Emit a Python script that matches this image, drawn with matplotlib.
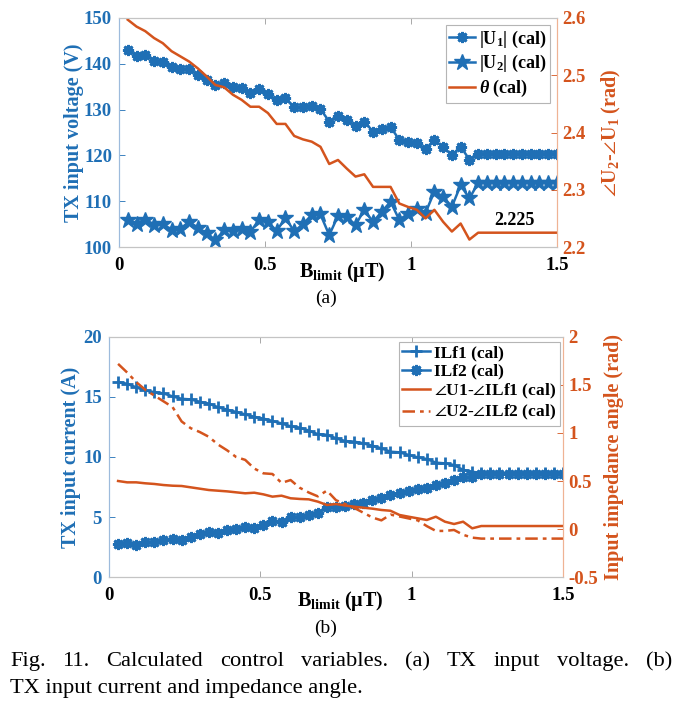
import matplotlib
matplotlib.use('Agg')
import matplotlib.pyplot as plt

plt.rcParams['font.family'] = ['Liberation Serif', 'DejaVu Serif']
plt.rcParams['mathtext.fontset'] = 'custom'
plt.rcParams['mathtext.rm'] = 'Liberation Serif:bold'
plt.rcParams['mathtext.bf'] = 'Liberation Serif:bold'
plt.rcParams['mathtext.it'] = 'Liberation Serif:italic:bold'
plt.rcParams['mathtext.fallback'] = 'stix'

# ---------------- data ----------------
b_limit = [0.03, 0.06, 0.09, 0.12, 0.15, 0.18, 0.21, 0.24, 0.27, 0.30,
           0.33, 0.36, 0.39, 0.42, 0.45, 0.48, 0.51, 0.54, 0.57, 0.60,
           0.63, 0.66, 0.69, 0.72, 0.75, 0.78, 0.81, 0.84, 0.87, 0.90,
           0.93, 0.96, 0.99, 1.02, 1.05, 1.08, 1.11, 1.14, 1.17, 1.20,
           1.23, 1.26, 1.29, 1.32, 1.35, 1.38, 1.41, 1.44, 1.47, 1.50]

u1_mag = [143.0, 141.8, 141.9, 140.7, 140.4, 139.2, 138.9, 138.8, 137.6, 136.5,
          135.4, 135.9, 134.9, 134.7, 133.6, 134.5, 133.4, 132.0, 132.5, 130.5,
          130.5, 130.7, 130.1, 127.4, 128.7, 127.8, 126.4, 127.4, 125.2, 125.7,
          126.2, 123.4, 123.0, 122.6, 121.4, 123.4, 121.8, 120.1, 121.9, 119.1,
          120.4, 120.4, 120.4, 120.4, 120.4, 120.4, 120.4, 120.4, 120.4, 120.4]

u2_mag = [106.0, 105.0, 106.0, 104.9, 105.0, 103.8, 104.0, 105.5, 104.2, 103.0,
          101.5, 103.7, 103.6, 104.0, 103.3, 106.0, 105.5, 103.5, 106.4, 103.4,
          105.0, 107.0, 107.1, 102.6, 106.8, 106.6, 104.8, 108.1, 105.5, 107.7,
          109.9, 105.9, 107.3, 108.4, 107.5, 112.1, 111.0, 108.8, 113.5, 110.6,
          114.0, 114.0, 114.0, 114.0, 114.0, 114.0, 114.0, 114.0, 114.0, 114.0]

theta = [2.597, 2.585, 2.577, 2.565, 2.556, 2.542, 2.533, 2.524, 2.512, 2.498,
         2.483, 2.479, 2.466, 2.457, 2.445, 2.445, 2.434, 2.415, 2.415, 2.394,
         2.388, 2.384, 2.375, 2.345, 2.352, 2.337, 2.323, 2.327, 2.305, 2.305,
         2.305, 2.276, 2.270, 2.265, 2.250, 2.265, 2.244, 2.227, 2.241, 2.213,
         2.225, 2.225, 2.225, 2.225, 2.225, 2.225, 2.225, 2.225, 2.225, 2.225]

ilf1 = [16.25, 16.10, 15.80, 15.55, 15.40, 15.30, 15.05, 14.85, 14.80, 14.60,
        14.45, 14.15, 13.95, 13.75, 13.55, 13.35, 13.20, 13.00, 12.80, 12.55,
        12.45, 12.20, 11.90, 11.85, 11.56, 11.33, 11.28, 11.14, 10.94, 10.72,
        10.44, 10.39, 10.17, 9.97, 9.83, 9.53, 9.47, 9.33, 8.92, 8.78,
        8.65, 8.65, 8.65, 8.65, 8.65, 8.65, 8.65, 8.65, 8.65, 8.65]

ilf2 = [2.72, 2.86, 2.67, 2.89, 2.89, 3.08, 3.14, 3.08, 3.31, 3.58,
        3.78, 3.69, 3.92, 3.97, 4.19, 4.11, 4.33, 4.69, 4.61, 4.97,
        5.03, 5.17, 5.31, 5.81, 5.80, 5.90, 6.10, 6.20, 6.45, 6.60,
        6.85, 7.00, 7.20, 7.30, 7.45, 7.70, 7.85, 8.05, 8.30, 8.35,
        8.60, 8.60, 8.60, 8.60, 8.60, 8.60, 8.60, 8.60, 8.60, 8.60]

ang1 = [0.500, 0.486, 0.486, 0.476, 0.469, 0.458, 0.451, 0.448, 0.434, 0.420,
        0.406, 0.399, 0.392, 0.382, 0.372, 0.378, 0.361, 0.337, 0.347, 0.320,
        0.313, 0.309, 0.285, 0.250, 0.260, 0.245, 0.232, 0.222, 0.212, 0.198,
        0.190, 0.146, 0.128, 0.111, 0.094, 0.128, 0.076, 0.052, 0.076, 0.007,
        0.031, 0.031, 0.031, 0.031, 0.031, 0.031, 0.031, 0.031, 0.031, 0.031]

ang2 = [1.72, 1.63, 1.53, 1.45, 1.39, 1.33, 1.27, 1.12, 1.05, 1.01,
        0.96, 0.88, 0.82, 0.75, 0.72, 0.63, 0.58, 0.573, 0.48, 0.51,
        0.43, 0.38, 0.34, 0.40, 0.30, 0.26, 0.22, 0.17, 0.12, 0.09,
        0.15, 0.13, 0.11, 0.09, 0.03, -0.02, -0.02, -0.01, -0.06, -0.09,
        -0.10, -0.10, -0.10, -0.10, -0.10, -0.10, -0.10, -0.10, -0.10, -0.10]

x_ticks = [0, 0.5, 1, 1.5]
x_ticklabels = ['0', '0.5', '1', '1.5']
a_left_ticks = [100, 110, 120, 130, 140, 150]
a_right_ticks = [2.2, 2.3, 2.4, 2.5, 2.6]
a_right_labels = ['2.2', '2.3', '2.4', '2.5', '2.6']
b_left_ticks = [0, 5, 10, 15, 20]
b_right_ticks = [-0.5, 0, 0.5, 1, 1.5, 2]
b_right_labels = ['-0.5', '0', '0.5', '1', '1.5', '2']

BLUE = '#1f6fb5'
ORANGE = '#d4541d'
TICKFS = 13.5
LABFS = 14.5

W, H = 684, 709
fig = plt.figure(figsize=(W / 100, H / 100), dpi=100)


def px_axes(l, r, t, b):
    return fig.add_axes([l / W, 1 - b / H, (r - l) / W, (b - t) / H])


def style_axes(ax, ax2):
    ax.set_xlim(0, 1.5)
    ax.set_xticks(x_ticks)
    ax.set_xticklabels(x_ticklabels, fontsize=TICKFS, fontweight='bold')
    ax.tick_params(axis='x', direction='in', length=4, width=0.6, top=True,
                   color='#9a9a9a', pad=7)
    ax.tick_params(axis='y', direction='in', length=4, width=0.6,
                   colors=BLUE, labelsize=TICKFS, pad=5)
    ax2.tick_params(axis='y', direction='in', length=4, width=0.6,
                    colors=ORANGE, labelsize=TICKFS, pad=4)
    for lab in ax.get_yticklabels() + ax2.get_yticklabels():
        lab.set_fontweight('bold')
    for a in (ax, ax2):
        a.spines['top'].set_color('#c4c4c4')
        a.spines['bottom'].set_color('#c4c4c4')
        a.spines['left'].set_color('#9dbbdc')
        a.spines['right'].set_color('#efb394')
        for s in a.spines.values():
            s.set_linewidth(0.8)


LEGKW = dict(fancybox=False, edgecolor='#b5b5b5', framealpha=1,
             handletextpad=0.25, borderpad=0.2, borderaxespad=0)

# ---------------- panel (a) ----------------
ax = px_axes(119, 557, 18, 247)
ax2 = ax.twinx()
ast = (8, 2, 0)
l1, = ax.plot(b_limit, u1_mag, color=BLUE, lw=1.8, marker=ast, ms=8, mew=2.0,
              label=r'$\mathbf{|U_1|}$ (cal)')
l2, = ax.plot(b_limit, u2_mag, color=BLUE, lw=1.8, marker='*', ms=12,
              label=r'$\mathbf{|U_2|}$ (cal)')
l3, = ax2.plot(b_limit, theta, color=ORANGE, lw=1.8, label=r'$\theta$ (cal)')
ax.set_ylim(100, 150)
ax.set_yticks(a_left_ticks)
ax2.set_ylim(2.2, 2.6)
ax2.set_yticks(a_right_ticks)
ax2.set_yticklabels(a_right_labels)
style_axes(ax, ax2)
ax.set_ylabel('TX input voltage (V)', fontsize=LABFS, fontweight='bold',
              color=BLUE, labelpad=0)
ax2.set_ylabel(r'$\angle\mathbf{U_2}$-$\angle\mathbf{U_1}$ (rad)',
               fontsize=LABFS, fontweight='bold', color=ORANGE,
               rotation=90, labelpad=10)
ax.text(0.51, -0.055, r'$\mathbf{B_{limit}}$ (μT)', transform=ax.transAxes,
        ha='center', va='top', fontsize=LABFS, fontweight='bold')
ax2.text(1.355, 2.232, '2.225', ha='center', va='bottom', fontsize=13,
         fontweight='bold', color='black')
leg = ax2.legend(handles=[l1, l2, l3], loc='upper right',
                 bbox_to_anchor=(0.985, 0.97),
                 prop={'weight': 'bold', 'size': 13},
                 handlelength=1.4, labelspacing=0.2, **LEGKW)
leg.get_frame().set_linewidth(0.8)
fig.text(326 / W, 1 - 298 / H, '(a)', ha='center', va='center', fontsize=14)

# ---------------- panel (b) ----------------
bx = px_axes(109, 563, 337, 577)
bx2 = bx.twinx()
m1, = bx.plot(b_limit, ilf1, color=BLUE, lw=1.8, marker='+', ms=9, mew=2.0,
              label='ILf1 (cal)')
m2, = bx.plot(b_limit, ilf2, color=BLUE, lw=1.8, marker=ast, ms=8, mew=2.0,
              label='ILf2 (cal)')
m3, = bx2.plot(b_limit, ang1, color=ORANGE, lw=1.8,
               label=r'$\angle$U1-$\angle$ILf1 (cal)')
m4, = bx2.plot(b_limit, ang2, color=ORANGE, lw=1.8,
               linestyle=(0, (5, 2, 1.5, 2)),
               label=r'$\angle$U2-$\angle$ILf2 (cal)')
bx.set_ylim(0, 20)
bx.set_yticks(b_left_ticks)
bx2.set_ylim(-0.5, 2)
bx2.set_yticks(b_right_ticks)
bx2.set_yticklabels(b_right_labels)
style_axes(bx, bx2)
bx.set_ylabel('TX input current (A)', fontsize=LABFS, fontweight='bold',
              color=BLUE, labelpad=1.5)
bx2.set_ylabel('Input impedance angle (rad)', fontsize=LABFS,
               fontweight='bold', color=ORANGE, rotation=90, labelpad=4)
bx.text(0.51, -0.05, r'$\mathbf{B_{limit}}$ (μT)', transform=bx.transAxes,
        ha='center', va='top', fontsize=LABFS, fontweight='bold')
leg2 = bx2.legend(handles=[m1, m2, m3, m4], loc='upper right',
                  bbox_to_anchor=(0.993, 0.98),
                  prop={'weight': 'bold', 'size': 12.5},
                  handlelength=1.6, labelspacing=0.12, **LEGKW)
leg2.get_frame().set_linewidth(0.8)
fig.text(326 / W, 1 - 628 / H, '(b)', ha='center', va='center', fontsize=14)

# ---------------- caption (justified first line) ----------------
cap1 = 'Fig. 11. Calculated control variables. (a) TX input voltage. (b)'
cap2 = 'TX input current and impedance angle.'
CAPFS = 16.2
renderer = fig.canvas.get_renderer()
words = cap1.split()
texts = [fig.text(0, 1 - 666 / H, w, fontsize=CAPFS, va='baseline')
         for w in words]
widths = [t.get_window_extent(renderer).width for t in texts]
x0, x1 = 10, 672
gap = (x1 - x0 - sum(widths)) / (len(words) - 1)
xp = x0
for t, w in zip(texts, widths):
    t.set_x(xp / W)
    xp += w + gap
fig.text(x0 / W, 1 - 693 / H, cap2, fontsize=CAPFS, va='baseline')

fig.savefig('out.png', dpi=100)
